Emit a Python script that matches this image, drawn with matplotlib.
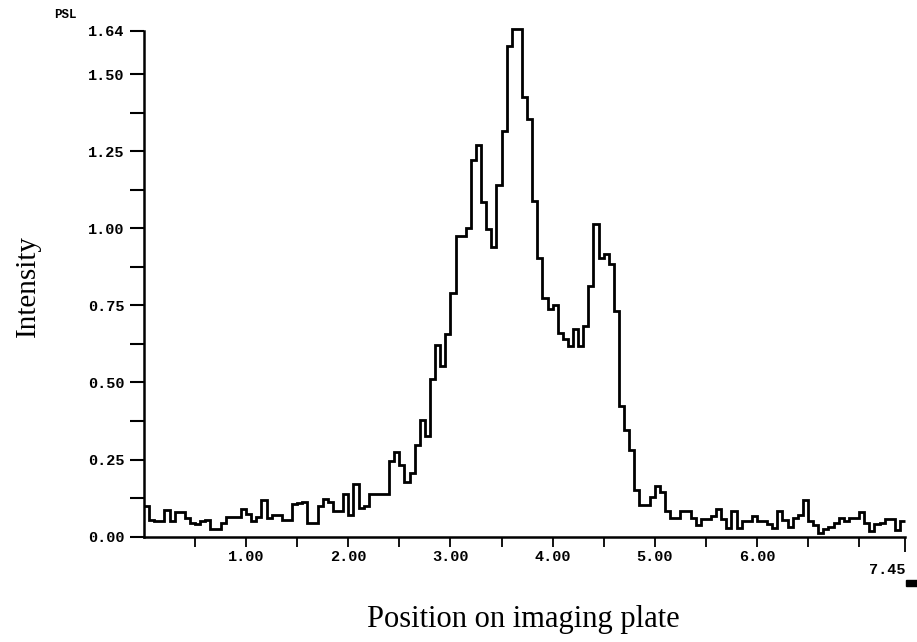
import matplotlib.pyplot as plt
import numpy as np
from matplotlib.patches import Rectangle

# PSL profile along the plate, one value per 0.05 bin starting at 0
bin_width = 0.05
intensity = [
    0.10, 0.055, 0.05, 0.05, 0.085, 0.05, 0.08, 0.08, 0.06, 0.045,
    0.04, 0.05, 0.055, 0.025, 0.025, 0.045, 0.065, 0.065, 0.065, 0.09,
    0.075, 0.05, 0.065, 0.12, 0.06, 0.07, 0.07, 0.055, 0.055, 0.107,
    0.11, 0.114, 0.046, 0.046, 0.10, 0.122, 0.114, 0.082, 0.082, 0.138,
    0.072, 0.171, 0.093, 0.10, 0.14, 0.14, 0.14, 0.14, 0.245, 0.274,
    0.234, 0.176, 0.206, 0.298, 0.378, 0.326, 0.512, 0.62, 0.555, 0.656,
    0.79, 0.975, 0.975, 1.0, 1.22, 1.27, 1.086, 0.997, 0.94, 1.14,
    1.316, 1.59, 1.646, 1.646, 1.424, 1.354, 1.089, 0.905, 0.775, 0.737,
    0.75, 0.66, 0.64, 0.618, 0.672, 0.618, 0.683, 0.813, 1.013, 0.905,
    0.915, 0.883, 0.731, 0.423, 0.347, 0.282, 0.152, 0.104, 0.104, 0.13,
    0.166, 0.144, 0.082, 0.06, 0.06, 0.082, 0.082, 0.06, 0.039, 0.057,
    0.057, 0.068, 0.09, 0.057, 0.028, 0.082, 0.028, 0.05, 0.05, 0.068,
    0.05, 0.05, 0.042, 0.028, 0.082, 0.055, 0.033, 0.06, 0.072, 0.12,
    0.05, 0.039, 0.012, 0.025, 0.033, 0.044, 0.06, 0.05, 0.06, 0.06,
    0.079, 0.044, 0.017, 0.042, 0.046, 0.057, 0.057, 0.022, 0.05,
]

x_end = 7.45
x_ticks = [0.5, 1.0, 1.5, 2.0, 2.5, 3.0, 3.5, 4.0, 4.5, 5.0, 5.5, 6.0, 6.5, 7.0]
x_ticklabels = ["", "1.00", "", "2.00", "", "3.00", "", "4.00", "", "5.00", "", "6.00", "", ""]
y_ticks = [0.0, 0.25, 0.5, 0.75, 1.0, 1.25, 1.5, 1.64]
y_ticklabels = ["0.00", "0.25", "0.50", "0.75", "1.00", "1.25", "1.50", "1.64"]
y_minor = [0.125, 0.375, 0.625, 0.875, 1.125, 1.375]

mono = "Liberation Mono"
serif = "Liberation Serif"

fig = plt.figure(figsize=(9.17, 6.42), dpi=100)
ax = fig.add_axes([0.157, 0.164, 0.830, 0.788])

edges = np.arange(len(intensity) + 1) * bin_width
ax.stairs(intensity, edges, baseline=None, color="black", lw=2.0, clip_on=False)

ax.set_xlim(0, x_end)
ax.set_ylim(0, 1.64)
for side in ["top", "right"]:
    ax.spines[side].set_visible(False)
for side in ["left", "bottom"]:
    ax.spines[side].set_linewidth(1.8)

ax.set_xticks(x_ticks)
ax.set_xticklabels(x_ticklabels, fontfamily=mono, fontweight="bold", fontsize=11)
ax.set_xticks([x_end], minor=True)
ax.set_yticks(y_ticks)
ax.set_yticklabels(y_ticklabels, fontfamily=mono, fontweight="bold", fontsize=11)
ax.set_yticks(y_minor, minor=True)
ax.tick_params(axis="x", which="major", direction="out", length=7.5, width=1.3, pad=2)
ax.tick_params(axis="x", which="minor", direction="out", length=11, width=1.3)
ax.tick_params(axis="y", which="both", direction="out", length=10, width=1.5, pad=4)

# end label of the x axis sits below the others
ax.text(x_end, -0.107, "7.45", ha="right", va="center", fontfamily=mono,
        fontweight="bold", fontsize=11, transform=ax.transData, clip_on=False)
fig.patches.append(Rectangle((906 / 917, 1 - 586 / 642), 11 / 917, 6 / 642,
                             transform=fig.transFigure, color="black"))

fig.text(65 / 917, 1 - 15 / 642, "PSL", ha="center", va="center",
         fontfamily=mono, fontweight="bold", fontsize=9)
fig.text(28 / 917, 1 - 286 / 642, "Intensity", rotation=90, ha="center", va="center",
         fontfamily=serif, fontsize=21)
fig.text(523 / 917, 1 - 620 / 642, "Position on imaging plate", ha="center", va="center",
         fontfamily=serif, fontsize=22)

fig.savefig("out.png", dpi=100)
